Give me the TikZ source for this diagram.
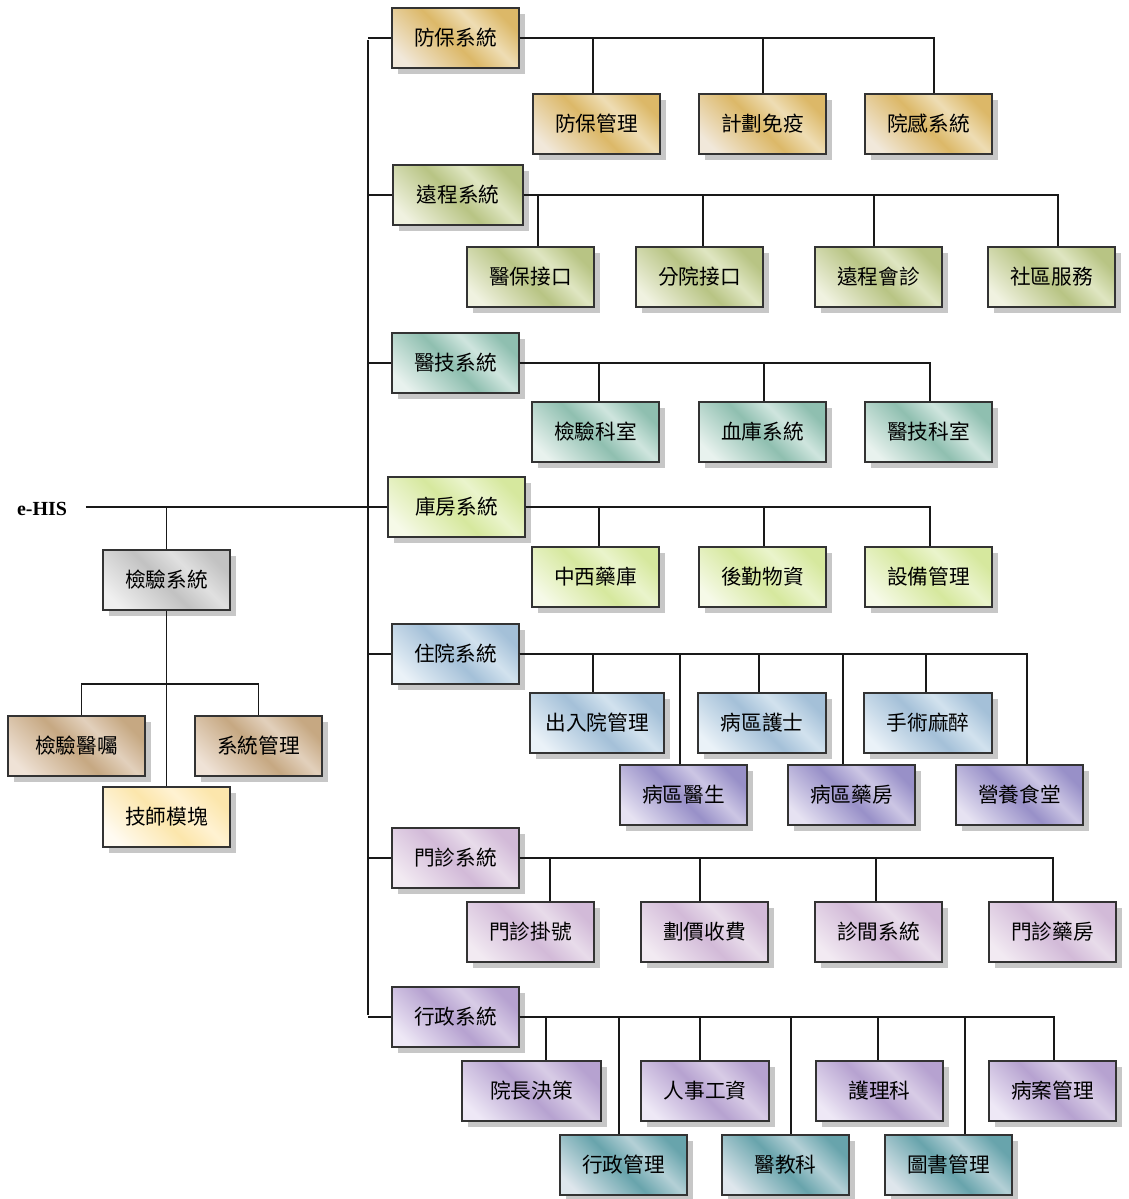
\documentclass[tikz,border=0pt]{standalone}
\usepackage{fontspec}
\setmainfont{Liberation Serif}
\newfontfamily\cjk{Noto Sans CJK TC}
\usetikzlibrary{shadows}

\newcommand\mkshade[4]{%
  \definecolor{#1D}{HTML}{#2}\definecolor{#1L}{HTML}{#3}\definecolor{#1M}{HTML}{#4}%
  \pgfdeclarehorizontalshading{#1sh}{100bp}{color(0bp)=(#1L); color(22bp)=(#1L); color(48bp)=(#1D); color(62bp)=(#1M); color(76bp)=(#1D); color(100bp)=(#1D)}}
\mkshade{fb}{DCB868}{F1E8DA}{EEDDB4}
\mkshade{yc}{B8C484}{F0F2E0}{DFE6C2}
\mkshade{yj}{8FBFB0}{E8F2EE}{CFE5DE}
\mkshade{kf}{D6E89E}{F6FAE8}{EAF4CC}
\mkshade{zy}{A4C0D8}{EAF2F8}{D2E2EE}
\mkshade{zp}{9890C8}{E6E2F2}{CCC6E4}
\mkshade{mz}{D2BAD8}{F2EAF2}{E8DCEA}
\mkshade{xz}{B6A2D0}{EEE8F6}{D8CCE6}
\mkshade{xt}{68A4AC}{DEE6EC}{B4D0D6}
\mkshade{gr}{C2C2C2}{F0F0F0}{E0E0E0}
\mkshade{tn}{C6A882}{EFE2D6}{E2D0BC}
\mkshade{ye}{FCE6AC}{FFFBF2}{FFF2D2}

\tikzset{
  box/.style={rectangle, draw=black!80, line width=1.1pt, inner sep=0pt,
    font=\cjk\fontsize{15.5}{18}\selectfont, shading angle=45,
    drop shadow={shadow xshift=4.5pt, shadow yshift=-4.5pt, fill=black!22, opacity=1}},
  conn/.style={line width=0.9pt, draw=black!90},
}
\newcommand\bx[7]{\node[box,shading=#6sh,minimum width={(#4-#2)*0.75pt},minimum height={(#5-#3)*0.75pt}] (#1) at ({(#2+#4)/2},{(#3+#5)/2}) {#7};}

\begin{document}
\begin{tikzpicture}[x=0.75pt,y=-0.75pt]
\useasboundingbox (0,0) rectangle (1128,1199);

% left part
\node[font=\bfseries\fontsize{15}{18}\selectfont, inner sep=0pt] (eh) at (42,509) {e-HIS};
\bx{kj}{103}{550}{230}{610}{gr}{檢驗系統}
\bx{jy}{8}{716}{145}{776}{tn}{檢驗醫囑}
\bx{xg}{195}{716}{322}{776}{tn}{系統管理}
\bx{js}{103}{787}{230}{847}{ye}{技師模塊}

% top-level systems
\bx{fb}{392}{8}{519}{68}{fb}{防保系統}
\bx{yc}{393}{165}{523}{225}{yc}{遠程系統}
\bx{yj}{392}{333}{519}{393}{yj}{醫技系統}
\bx{kf}{388}{477}{525}{537}{kf}{庫房系統}
\bx{zy}{392}{624}{519}{684}{zy}{住院系統}
\bx{mz}{392}{828}{519}{888}{mz}{門診系統}
\bx{xz}{392}{987}{519}{1047}{xz}{行政系統}

% children
\bx{fb1}{533}{94}{660}{154}{fb}{防保管理}
\bx{fb2}{699}{94}{826}{154}{fb}{計劃免疫}
\bx{fb3}{865}{94}{992}{154}{fb}{院感系統}

\bx{yc1}{467}{247}{594}{307}{yc}{醫保接口}
\bx{yc2}{636}{247}{763}{307}{yc}{分院接口}
\bx{yc3}{815}{247}{942}{307}{yc}{遠程會診}
\bx{yc4}{988}{247}{1115}{307}{yc}{社區服務}

\bx{yj1}{532}{402}{659}{462}{yj}{檢驗科室}
\bx{yj2}{699}{402}{826}{462}{yj}{血庫系統}
\bx{yj3}{865}{402}{992}{462}{yj}{醫技科室}

\bx{kf1}{532}{547}{659}{607}{kf}{中西藥庫}
\bx{kf2}{699}{547}{826}{607}{kf}{後勤物資}
\bx{kf3}{865}{547}{992}{607}{kf}{設備管理}

\bx{zy1}{530}{693}{664}{753}{zy}{出入院管理}
\bx{zy2}{698}{693}{826}{753}{zy}{病區護士}
\bx{zy3}{864}{693}{992}{753}{zy}{手術麻醉}
\bx{zy4}{620}{765}{747}{825}{zp}{病區醫生}
\bx{zy5}{788}{765}{915}{825}{zp}{病區藥房}
\bx{zy6}{956}{765}{1083}{825}{zp}{營養食堂}

\bx{mz1}{467}{902}{594}{962}{mz}{門診掛號}
\bx{mz2}{641}{902}{768}{962}{mz}{劃價收費}
\bx{mz3}{815}{902}{942}{962}{mz}{診間系統}
\bx{mz4}{989}{902}{1116}{962}{mz}{門診藥房}

\bx{xz1}{462}{1061}{601}{1121}{xz}{院長決策}
\bx{xz2}{641}{1061}{769}{1121}{xz}{人事工資}
\bx{xz3}{816}{1061}{943}{1121}{xz}{護理科}
\bx{xz4}{989}{1061}{1116}{1121}{xz}{病案管理}
\bx{xz5}{560}{1135}{687}{1195}{xt}{行政管理}
\bx{xz6}{722}{1135}{849}{1195}{xt}{醫教科}
\bx{xz7}{885}{1135}{1012}{1195}{xt}{圖書管理}

% connectors
\coordinate (tt) at (368,40);
\coordinate (tb) at (368,1015);
\draw[conn] (tt) -- (tb);
\foreach \p in {fb,yc,yj,kf,zy,mz,xz} \draw[conn] (\p.west) -- (\p.west -| tt);
\draw[conn] ([xshift=14pt]eh.east |- kf.west) -- (kf.west -| tt);

\draw[conn] (kj.north) -- (kj.north |- kf.west);
\draw[conn] (kj.south) -- (js.north);
\coordinate (lh) at (166.5,684);
\draw[conn] ([xshift=4pt]jy.north) |- (lh) -| (xg.north);

\draw[conn] (fb.east) -| ([xshift=-2.6pt]fb1.north);
\draw[conn] (fb.east) -| ([xshift=0.4pt]fb2.north);
\draw[conn] (fb.east) -| ([xshift=4.1pt]fb3.north);

\draw[conn] (yc.east) -| ([xshift=5.6pt]yc1.north);
\draw[conn] (yc.east) -| ([xshift=2.6pt]yc2.north);
\draw[conn] (yc.east) -| ([xshift=-3.4pt]yc3.north);
\draw[conn] (yc.east) -| ([xshift=4.9pt]yc4.north);

\draw[conn] (yj.east) -| ([xshift=2.6pt]yj1.north);
\draw[conn] (yj.east) -| ([xshift=1.1pt]yj2.north);
\draw[conn] (yj.east) -| ([xshift=1.1pt]yj3.north);

\draw[conn] (kf.east) -| ([xshift=2.6pt]kf1.north);
\draw[conn] (kf.east) -| ([xshift=1.1pt]kf2.north);
\draw[conn] (kf.east) -| ([xshift=1.1pt]kf3.north);

\draw[conn] (zy.east) -| ([xshift=-3pt]zy1.north);
\draw[conn] (zy.east) -| ([xshift=-2.2pt]zy2.north);
\draw[conn] (zy.east) -| ([xshift=-1.5pt]zy3.north);
\draw[conn] (zy.east) -| ([xshift=-2.6pt]zy4.north);
\draw[conn] (zy.east) -| ([xshift=-6.4pt]zy5.north);
\draw[conn] (zy.east) -| ([xshift=5.6pt]zy6.north);

\draw[conn] (mz.east) -| ([xshift=14.6pt]mz1.north);
\draw[conn] (mz.east) -| ([xshift=-3.4pt]mz2.north);
\draw[conn] (mz.east) -| ([xshift=-1.9pt]mz3.north);
\draw[conn] (mz.east) -| ([xshift=0.4pt]mz4.north);

\draw[conn] (xz.east) -| ([xshift=10.9pt]xz1.north);
\draw[conn] (xz.east) -| ([xshift=-3.8pt]xz2.north);
\draw[conn] (xz.east) -| ([xshift=-1.1pt]xz3.north);
\draw[conn] (xz.east) -| ([xshift=1.1pt]xz4.north);
\draw[conn] (xz.east) -| ([xshift=-3.4pt]xz5.north);
\draw[conn] (xz.east) -| ([xshift=4.1pt]xz6.north);
\draw[conn] (xz.east) -| ([xshift=12.4pt]xz7.north);
\end{tikzpicture}
\end{document}
